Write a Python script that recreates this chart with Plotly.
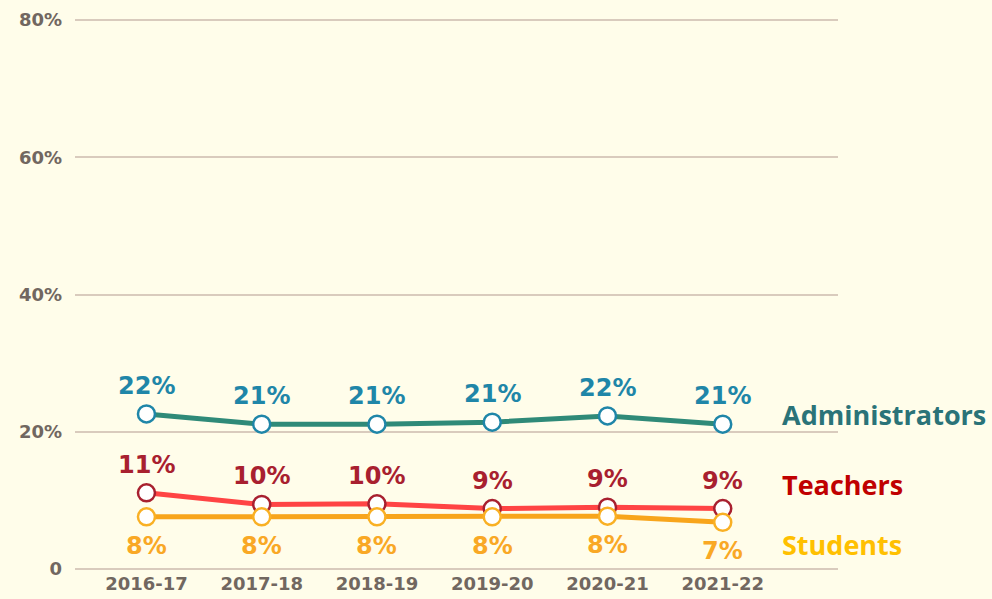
import plotly.graph_objects as go

years = ["2016-17", "2017-18", "2018-19", "2019-20", "2020-21", "2021-22"]
admin = [22.6, 21.1, 21.1, 21.4, 22.3, 21.1]
teachers = [11.1, 9.4, 9.5, 8.8, 9.0, 8.8]
students = [7.6, 7.6, 7.6, 7.6, 7.7, 6.8]
admin_labels = ["22%", "21%", "21%", "21%", "22%", "21%"]
teacher_labels = ["11%", "10%", "10%", "9%", "9%", "9%"]
student_labels = ["8%", "8%", "8%", "8%", "8%", "7%"]
tick_vals = [0, 20, 40, 60, 80]
tick_text = ["0", "20%", "40%", "60%", "80%"]

series = [
    ("Administrators", admin, admin_labels, "#2f8a78", "#1f86a8", "#1f86a8", 28, "#2a7378", 22.5),
    ("Teachers", teachers, teacher_labels, "#ff4444", "#a8202f", "#a8202f", 28, "#c00000", 12.3),
    ("Students", students, student_labels, "#f8a51b", "#f9b024", "#f9a825", -29, "#ffc000", 3.6),
]

fig = go.Figure()
for name, vals, labels, lc, mc, tc, ys, namec, ny in series:
    xs = list(range(len(years)))
    fig.add_trace(go.Scatter(
        x=xs, y=vals, mode="lines+markers", name=name,
        line=dict(color=lc, width=5),
        marker=dict(size=17, color="white", line=dict(color=mc, width=2.5)),
        showlegend=False, cliponaxis=False,
    ))
    for xi, v, lab in zip(xs, vals, labels):
        fig.add_annotation(x=xi, y=v, text=lab, showarrow=False, yshift=ys,
                           font=dict(family="DejaVu Sans", size=24, color=tc, weight="bold"))
    fig.add_annotation(x=1.0, xref="paper", y=ny, yref="y", xanchor="left",
                       xshift=-58, text=f"<b>{name}</b>", showarrow=False,
                       font=dict(family="Open Sans", size=27, color=namec))

fig.update_layout(
    width=992, height=599,
    margin=dict(l=75, r=154, t=19, b=29),
    paper_bgcolor="#FFFDEA", plot_bgcolor="#FFFDEA",
    font=dict(family="DejaVu Sans", color="#6b6158"),
)
fig.update_xaxes(
    range=[-0.62, 6.0], tickvals=list(range(len(years))), ticktext=years,
    showgrid=False, zeroline=False, showline=False, ticklabelstandoff=1,
    automargin=False,
    tickfont=dict(size=18, color="#716760", family="DejaVu Sans", weight="bold"),
)
fig.update_yaxes(
    range=[-0.15, 80.15], tickvals=tick_vals, ticktext=tick_text,
    showgrid=True, gridcolor="#d9cbbd", gridwidth=2, zeroline=False,
    showline=False, ticklabelstandoff=12, automargin=False,
    tickfont=dict(size=18, color="#716760", family="DejaVu Sans", weight="bold"),
)
fig.write_html("out.html", config={"displayModeBar": False},
               post_script="document.body.style.margin='0';document.body.style.background='#FFFDEA';")
